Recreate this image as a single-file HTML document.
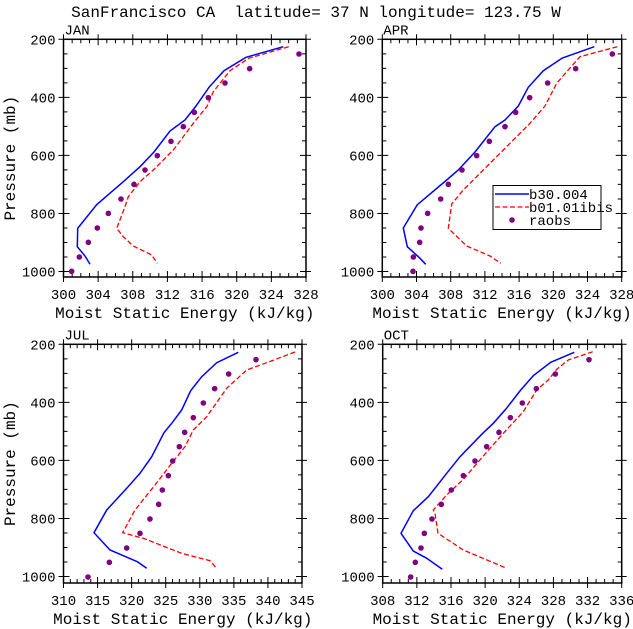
<!DOCTYPE html>
<html><head><meta charset="utf-8"><style>
body{margin:0;background:#fff}
svg{display:block}
text{font-family:"Liberation Mono",monospace;fill:#000}
</style></head><body>
<svg id="s" width="633" height="629" xmlns="http://www.w3.org/2000/svg">
<text x="316" y="17" font-size="16" text-anchor="middle" xml:space="preserve">SanFrancisco CA  latitude= 37 N longitude= 123.75 W</text>
</svg>
<script>
const NS="http://www.w3.org/2000/svg",S=document.getElementById('s');
function el(t,a,txt){const e=document.createElementNS(NS,t);for(const k in a)e.setAttribute(k,a[k]);if(txt!==undefined)e.textContent=txt;S.appendChild(e);return e;}
const panels=[
{n:"JAN",x0:63.5,x1:306,y0:39.3,yb:277,xmin:300,xmax:328,st:4,ox:0,oy:0,
b:[[850,140],[738,172],[672,212],[627,262],[588,318],[555,360],[510,393],[462,456],[420,500],[370,545],[335,575],[290,614],[233,685],[232,740],[255,768],[270,793]],
r:[[866,140],[746,175],[690,212],[640,275],[622,318],[580,370],[520,450],[460,510],[420,545],[385,590],[375,620],[350,685],[370,710],[400,738],[455,765],[472,790]],
d:[[897,162],[749,206],[675,249],[625,293],[583,337],[550,380],[513,424],[472,467],[435,510],[402,553],[363,597],[325,640],[292,684],[265,727],[238,771],[215,814]]},
{n:"APR",x0:382.3,x1:621.7,y0:39.3,yb:277,xmin:300,xmax:328,st:4,ox:330,oy:0,
b:[[793,140],[697,174],[640,212],[595,262],[565,318],[525,360],[495,380],[435,456],[385,510],[350,540],[262,614],[220,684],[232,740],[270,775],[287,793]],
r:[[862,140],[750,170],[710,215],[680,250],[645,318],[600,370],[520,450],[450,520],[400,570],[365,612],[355,685],[410,738],[480,768],[512,790]],
d:[[847,162],[737,206],[653,249],[599,293],[557,337],[525,380],[478,424],[440,467],[396,510],[355,553],[332,597],[293,640],[273,684],[269,727],[250,771],[249,814]]},
{n:"JUL",x0:63.5,x1:302,y0:344.3,yb:583,xmin:310,xmax:345,st:5,ox:0,oy:320,
b:[[715,97],[650,128],[605,170],[572,212],[545,270],[515,310],[492,338],[455,410],[420,460],[380,505],[320,570],[282,638],[330,690],[412,725],[440,745]],
r:[[885,96],[800,128],[740,150],[680,205],[620,290],[580,330],[555,380],[515,430],[465,495],[405,570],[368,638],[430,655],[545,700],[630,722],[650,745]],
d:[[768,119],[686,162],[644,206],[610,249],[580,293],[554,337],[538,380],[518,423],[505,467],[487,510],[476,553],[450,597],[420,640],[380,684],[328,727],[264,771]]},
{n:"OCT",x0:382.7,x1:621.7,y0:344.3,yb:583,xmin:308,xmax:336,st:4,ox:300,oy:320,
b:[[823,97],[752,127],[700,167],[662,210],[617,268],[580,310],[548,340],[480,410],[440,460],[385,530],[340,572],[303,640],[340,693],[380,715],[427,748]],
r:[[878,95],[805,120],[770,148],[745,180],[710,210],[670,275],[610,340],[548,410],[490,478],[440,525],[400,570],[405,580],[414,640],[490,690],[620,745]],
d:[[867,119],[766,162],[709,206],[667,249],[631,293],[597,337],[560,380],[525,423],[490,467],[454,510],[424,553],[396,597],[373,640],[363,684],[346,727],[332,771]]}
];
const k=0.29025;
panels.forEach((P,i)=>{
 const py=p=>P.y0+(p-200)*k, px=v=>P.x0+(v-P.xmin)*(P.x1-P.x0)/(P.xmax-P.xmin);
 el('rect',{x:P.x0,y:P.y0,width:P.x1-P.x0,height:P.yb-P.y0,fill:'none',stroke:'#000','stroke-width':1.5});
 let d='';
 for(let p=200;p<=1000;p+=50){const y=py(p);
  if(p%200==0){d+=`M${P.x0-5} ${y}H${P.x0+6}M${P.x1-6} ${y}H${P.x1+5}`;
   el('text',{x:P.x0-8,y:y+5,'font-size':14,'text-anchor':'end'},p);}
  else d+=`M${P.x0} ${y}H${P.x0+4}M${P.x1-4} ${y}H${P.x1}`;}
 for(let v=P.xmin;v<=P.xmax;v++){const x=px(v);
  if((v-P.xmin)%P.st==0){d+=`M${x} ${P.yb+5}V${P.yb-6}M${x} ${P.y0-5}V${P.y0+6}`;
   el('text',{x:x,y:P.yb+22,'font-size':14,'text-anchor':'middle'},v);}
  else d+=`M${x} ${P.yb}V${P.yb-4}M${x} ${P.y0}V${P.y0+4}`;}
 el('path',{d:d,stroke:'#000','stroke-width':1,fill:'none'});
 el('text',{x:P.x0+1,y:P.y0-5,'font-size':14,'font-family':'Liberation Serif,serif'},P.n);
 el('text',{x:(P.x0+P.x1)/2,y:P.yb+41,'font-size':16,'text-anchor':'middle'},'Moist Static Energy (kJ/kg)');
 if(i%2==0){const cy=(P.y0+P.yb)/2;el('text',{x:0,y:0,'font-size':16,'text-anchor':'middle',transform:`translate(15,${cy}) rotate(-90)`},'Pressure (mb)');}
 const pts=a=>a.map(q=>(P.ox+q[0]/3).toFixed(1)+','+(P.oy+q[1]/3).toFixed(1)).join(' ');
 el('polyline',{points:pts(P.b),fill:'none',stroke:'#0000ff','stroke-width':1.5});
 el('polyline',{points:pts(P.r),fill:'none',stroke:'#ff0000','stroke-width':1.3,'stroke-dasharray':'5,2.5'});
 P.d.forEach(q=>el('circle',{cx:P.ox+q[0]/3,cy:P.oy+q[1]/3,r:2.8,fill:'#800080'}));
});
el('rect',{x:493,y:185.5,width:108,height:44,fill:'#fff',stroke:'#000','stroke-width':1});
el('line',{x1:495,y1:194,x2:529,y2:194,stroke:'#0000ff','stroke-width':1.5});
el('line',{x1:495,y1:207,x2:529,y2:207,stroke:'#ff0000','stroke-width':1.3,'stroke-dasharray':'5,2.5'});
el('circle',{cx:512,cy:220,r:2.8,fill:'#800080'});
el('text',{x:529,y:199,'font-size':14,'font-family':'Liberation Serif,serif'},'b30.004');
el('text',{x:529,y:212,'font-size':14,'font-family':'Liberation Serif,serif'},'b01.01ibis');
el('text',{x:529,y:225,'font-size':14,'font-family':'Liberation Serif,serif'},'raobs');
</script>
</body></html>
